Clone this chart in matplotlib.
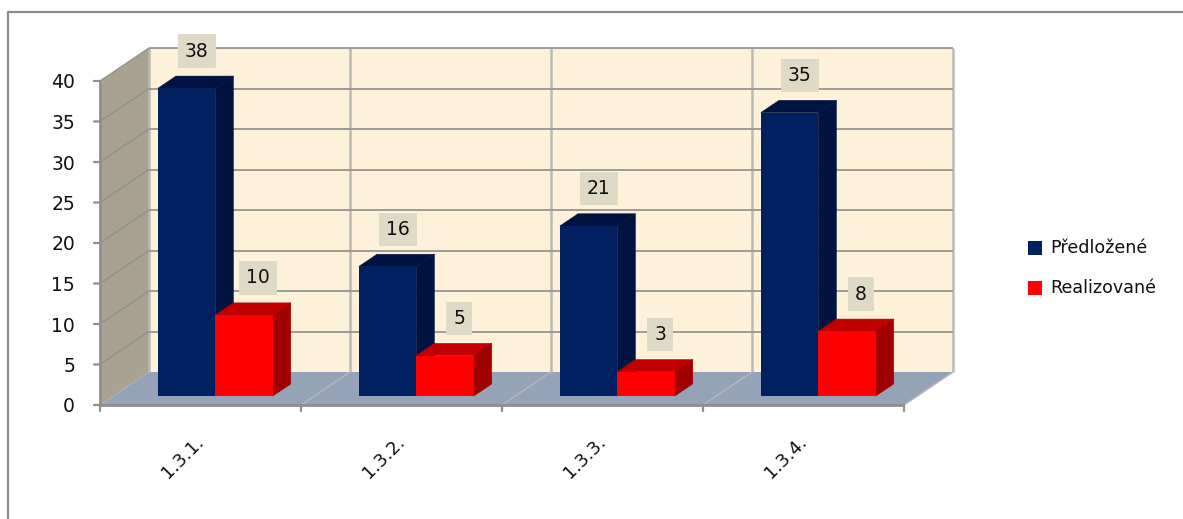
import matplotlib
matplotlib.use("Agg")
import matplotlib.pyplot as plt
from matplotlib.patches import Polygon, Rectangle
from matplotlib.lines import Line2D

categories = ["1.3.1.", "1.3.2.", "1.3.3.", "1.3.4."]
predlozene = [38, 16, 21, 35]
realizovane = [10, 5, 3, 8]
yticks = [0, 5, 10, 15, 20, 25, 30, 35, 40]
series_names = ["Předložené", "Realizované"]

W, H = 1183, 519
fig = plt.figure(figsize=(W / 100, H / 100), dpi=100, facecolor="white")
ax = fig.add_axes([100 / W, 1 - 405 / H, 804 / W, 324 / H])
ax.set_xlim(0, 4)
ax.set_ylim(0, 40)
ax.axis("off")

# oblique projection: d = 0 front plane, d = 1 back wall
DX = 49 / 201
DY = 33 / 8.1


def P(x, y, d=0.0):
    return (x + d * DX, y + d * DY)


def poly(pts, fc, z, seam=False):
    ax.add_patch(Polygon(pts, closed=True, fc=fc, ec=fc if seam else "none", lw=0.4 if seam else 0, zorder=z, clip_on=False))


def line(pts, c, lw, z):
    ax.add_line(Line2D([p[0] for p in pts], [p[1] for p in pts], color=c, lw=lw, zorder=z, clip_on=False, solid_capstyle="butt"))


WALL = "#FDF1D9"
SIDE = "#A9A291"
FLOOR = "#94A3B8"
GRID = "#9C9B96"
VGRID = "#BDBAB2"

poly([P(0, 0, 1), P(4, 0, 1), P(4, 40, 1), P(0, 40, 1)], WALL, 1)
poly([P(0, 0, 0), P(0, 0, 1), P(0, 40, 1), P(0, 40, 0)], SIDE, 1)
poly([P(0, 0, 0), P(4, 0, 0), P(4, 0, 1), P(0, 0, 1)], FLOOR, 1)

for i in range(len(categories) + 1):
    line([P(i, 0, 1), P(i, 40, 1)], VGRID, 1.8, 2)
    if 0 < i:
        line([P(i, 0, 0), P(i, 0, 1)], "#B4B6B8", 1.1, 2)
for v in yticks:
    if v > 0:
        line([P(0, v, 1), P(4, v, 1)], GRID, 1.4, 2)
        line([P(0, v, 0), P(0, v, 1)], "#8F8F8F", 0.9, 2)

# axes lines and ticks
line([P(0, 0), P(0, 40)], "#8E8E8E", 2, 3)
line([P(0, 0), P(4, 0)], "#8E8E8E", 2, 3)
for v in yticks:
    ax.annotate("", xy=(0, v), xytext=(-6, 0), textcoords="offset pixels", arrowprops=dict(arrowstyle="-", color="#8E8E8E", lw=1.6, shrinkA=0, shrinkB=0))
    ax.annotate(str(v), xy=(0, v), xytext=(-25, -2), textcoords="offset pixels", ha="right", va="center", fontsize=13.5, color="#111111", family="DejaVu Sans")
for i in range(len(categories) + 1):
    ax.annotate("", xy=(i, 0), xytext=(0, -6), textcoords="offset pixels", arrowprops=dict(arrowstyle="-", color="#8E8E8E", lw=1.6, shrinkA=0, shrinkB=0))

BAR_W = 0.2855
BAR_START = 0.222
D0, D1 = 0.27, 0.64


def bar(x0, v, front, top, side, z, label_dx):
    x1 = x0 + BAR_W
    poly([P(x0, v, D0), P(x1, v, D0), P(x1, v, D1), P(x0, v, D1)], top, z, True)
    poly([P(x1, 0, D0), P(x1, 0, D1), P(x1, v, D1), P(x1, v, D0)], side, z, True)
    poly([P(x0, 0, D0), P(x1, 0, D0), P(x1, v, D0), P(x0, v, D0)], front, z + 1)
    cx = x0 + BAR_W / 2
    ax.annotate(str(v), xy=P(cx, v, D1), xytext=(label_dx, 25), textcoords="offset pixels",
                ha="center", va="center", fontsize=13.5, color="#111111", zorder=20,
                family="DejaVu Sans", annotation_clip=False,
                bbox=dict(boxstyle="square,pad=0.38", fc="#DEDAC5", ec="none"))


NAVY, NAVY_D = "#00205F", "#001340"
RED, RED_T, RED_S = "#FF0000", "#C00000", "#A00000"
for i, (a, b) in enumerate(zip(predlozene, realizovane)):
    x0 = i + BAR_START
    bar(x0, a, NAVY, NAVY_D, NAVY_D, 5 + 2 * i, -8)
    bar(x0 + BAR_W, b, RED, RED_T, RED_S, 6 + 2 * i, -4)
    ax.annotate(categories[i], xy=(i + 0.5, 0), xytext=(-18, -52), textcoords="offset pixels",
                ha="center", va="center", rotation=45, fontsize=13, color="#111111", family="DejaVu Sans",
                annotation_clip=False)

# legend
for col, name, yp in zip([NAVY, RED], series_names, [248, 288]):
    fig.patches.append(Rectangle((1028 / W, 1 - (yp + 7) / H), 14 / W, 14 / H, transform=fig.transFigure, fc=col, ec="none"))
    fig.text(1050 / W, 1 - yp / H, name, ha="left", va="center", fontsize=12.6, color="#111111", family="DejaVu Sans")

# outer frame
fig.add_artist(Line2D([8 / W, 8 / W, 1], [0, 1 - 12 / H, 1 - 12 / H], color="#8C8C8C", lw=1.6, transform=fig.transFigure))

fig.savefig("out.png", dpi=100, facecolor="white")
